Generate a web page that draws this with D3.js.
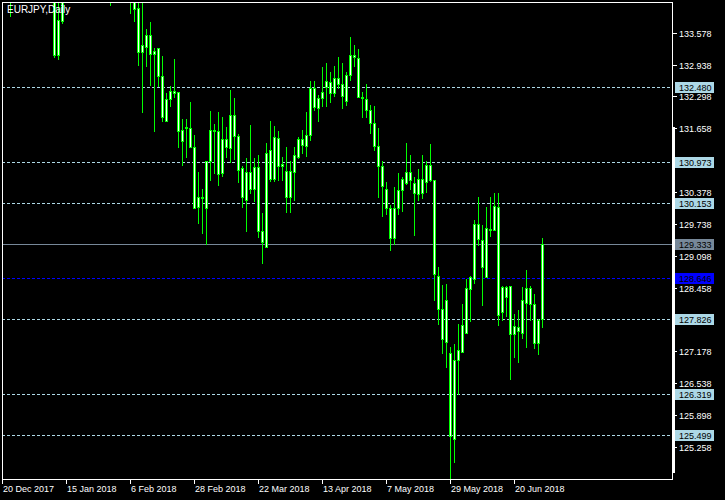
<!DOCTYPE html>
<html><head><meta charset="utf-8">
<script src="https://cdn.jsdelivr.net/npm/d3@7/dist/d3.min.js"></script>
<style>html,body{margin:0;padding:0;background:#000;overflow:hidden}</style>
</head><body>
<svg id="c" width="725" height="500"></svg>
<script>
const open  = [134.45,134.60,134.70,134.45,134.85,134.95,134.70,135.00,135.25,135.40,135.50,135.75,135.40,134.60,133.12,133.82,135.10,135.40,135.75,135.60,136.30,136.00,135.70,135.30,135.60,135.30,135.10,134.90,135.40,135.95,136.80,136.20,135.30,134.50,134.07,133.18,133.30,133.53,133.15,133.27,132.70,131.81,132.24,132.41,132.38,131.62,131.66,131.66,131.28,130.07,130.27,130.05,131.00,131.62,131.61,130.77,131.44,131.27,131.92,131.50,130.86,130.21,130.79,130.43,130.88,129.60,129.27,131.22,130.64,131.46,130.90,130.81,130.27,130.79,131.09,131.44,131.30,131.52,132.46,132.06,132.27,132.48,132.59,132.37,132.67,132.54,132.21,132.73,133.12,133.06,132.29,132.24,132.03,131.77,131.31,130.91,130.43,130.06,129.46,130.05,130.42,130.55,130.78,130.55,130.34,130.64,130.58,130.92,130.62,128.69,128.02,128.21,127.14,125.41,127.01,127.17,127.54,128.43,128.63,129.74,129.42,128.68,129.64,129.62,130.07,127.96,128.48,128.49,127.52,127.66,127.55,128.15,128.45,128.13,127.35,127.82];
const high  = [134.90,135.00,134.85,135.10,135.20,135.10,135.25,135.45,135.60,135.80,136.10,136.00,135.50,134.70,134.40,135.30,135.70,136.00,136.20,136.50,136.60,136.30,135.90,135.80,136.00,135.60,135.40,135.60,136.20,137.20,137.40,136.50,135.40,134.70,134.50,134.25,133.67,133.81,133.30,133.29,133.13,132.38,132.53,133.06,132.41,131.87,131.86,132.21,131.54,130.80,130.45,131.02,132.03,131.76,132.01,131.91,131.71,132.45,132.29,131.56,130.92,131.09,131.75,131.09,131.14,129.98,131.38,131.83,131.73,131.62,131.10,131.30,131.02,131.30,131.50,131.65,132.01,132.63,132.63,132.35,132.91,132.99,132.80,132.93,133.11,132.99,132.81,133.51,133.35,133.27,132.41,132.56,132.15,132.12,131.68,131.02,130.60,130.14,130.50,130.78,130.70,131.39,131.14,130.69,130.87,131.14,131.02,131.36,130.64,128.89,128.53,128.56,127.28,127.35,127.74,128.15,128.65,128.71,129.84,130.29,129.74,130.09,130.29,130.37,130.37,128.51,128.51,128.51,127.94,128.02,128.49,128.83,128.51,128.35,127.84,129.47];
const low   = [133.63,134.30,133.92,134.35,134.60,134.50,134.55,134.80,134.90,135.10,135.30,135.20,134.40,133.08,133.05,133.78,134.90,135.20,135.30,135.40,135.80,135.40,135.00,134.90,135.10,134.80,134.60,134.14,135.20,135.70,135.90,134.80,133.98,133.82,132.93,131.99,132.90,132.53,131.61,132.51,131.81,131.81,132.11,132.28,131.29,130.93,131.09,131.28,130.05,129.76,129.56,129.34,130.61,130.76,130.51,130.69,131.09,130.98,131.04,130.57,130.07,129.60,130.35,130.19,129.48,128.95,129.27,130.59,130.59,130.61,130.62,129.98,129.98,130.22,131.06,131.16,131.10,131.42,132.03,131.81,132.11,132.11,132.19,132.31,132.46,132.06,132.13,132.63,132.91,132.29,131.89,131.88,131.57,131.22,130.27,129.90,129.94,129.22,129.34,129.94,130.00,130.54,130.44,129.52,130.22,130.25,130.37,130.60,128.21,127.73,127.14,126.86,124.64,124.96,126.32,127.17,127.54,127.78,128.56,129.32,128.10,128.68,129.50,129.62,127.71,127.80,127.89,126.62,127.07,126.97,127.45,127.27,127.81,127.24,127.13,127.66];
const close = [134.60,134.70,134.45,134.85,134.95,134.70,135.00,135.25,135.40,135.50,135.75,135.40,134.60,133.12,133.83,135.10,135.40,135.75,135.60,136.30,136.00,135.70,135.30,135.60,135.30,135.10,134.90,135.40,135.95,136.80,136.20,135.30,134.50,134.05,133.18,133.33,133.53,133.15,133.21,132.70,131.89,132.24,132.41,132.36,131.61,131.41,131.68,131.28,130.05,130.27,130.25,131.00,131.62,131.61,130.74,131.44,131.29,131.92,131.50,130.83,130.27,130.79,130.43,130.88,129.60,129.38,131.16,130.64,131.48,130.90,130.94,130.27,130.81,131.12,131.44,131.32,131.52,132.46,132.08,132.27,132.38,132.61,132.37,132.67,132.54,132.31,132.73,133.12,133.09,132.29,132.27,132.03,131.77,131.31,130.91,130.49,130.06,129.46,130.05,130.42,130.64,130.78,130.62,130.35,130.64,130.35,130.93,130.62,128.73,128.02,127.42,127.36,125.48,127.01,127.21,127.71,128.45,128.67,129.74,129.43,128.88,129.65,129.62,130.10,127.91,128.48,128.27,127.52,127.68,127.58,128.21,128.45,128.13,127.35,127.81,129.333];

const tickIdx    = [0,16,32,48,64,80,96,112,128];
const tickLabels = ["20 Dec 2017","15 Jan 2018","6 Feb 2018","28 Feb 2018","22 Mar 2018","13 Apr 2018","7 May 2018","29 May 2018","20 Jun 2018"];
const priceTicks = [133.578,132.938,132.298,131.658,131.018,130.378,129.738,129.098,128.458,127.818,127.178,126.538,125.898,125.258];
const dashLevels = [132.480,130.973,130.153,127.826,126.319,125.499];
const bidLevel   = 129.333;
const blueLevel  = 128.646;
const title      = "EURJPY,Daily";

const W=725,H=500, L=2, R=672, T=2, B=479;
const svg=d3.select("#c").attr("shape-rendering","crispEdges");
svg.append("rect").attr("width",W).attr("height",H).attr("fill","#000");

const x=d3.scaleLinear().domain([0,1]).range([2.5,6.5]);
const y=d3.scaleLinear().domain([124.615,134.194]).range([B,T]);
const py=v=>Math.round(y(v))+0.5;
const font="'Liberation Sans', Arial, sans-serif";

svg.append("clipPath").attr("id","clip").append("rect").attr("x",L+1).attr("y",T+1).attr("width",R-L-1).attr("height",B-T-1);
const plot=svg.append("g").attr("clip-path","url(#clip)");

// level lines
plot.selectAll("line.lv").data(dashLevels).join("line")
  .attr("x1",L).attr("x2",R).attr("y1",d=>py(d)).attr("y2",d=>py(d))
  .attr("stroke","#add8e6").attr("stroke-dasharray","3,2");
plot.append("line").attr("x1",L).attr("x2",R).attr("y1",py(bidLevel)).attr("y2",py(bidLevel)).attr("stroke","#778899");
plot.append("line").attr("x1",L).attr("x2",R).attr("y1",py(blueLevel)).attr("y2",py(blueLevel)).attr("stroke","#0000ff").attr("stroke-dasharray","3,2");

// candles
const idx=d3.range(open.length);
const cg=plot.selectAll("g.c").data(idx).join("g");
cg.append("line").attr("x1",i=>x(i)).attr("x2",i=>x(i))
  .attr("y1",i=>py(high[i])).attr("y2",i=>py(low[i])).attr("stroke","#00ff00");
cg.append("path").attr("d",i=>{
  const t=py(Math.max(open[i],close[i])), b=py(Math.min(open[i],close[i]));
  const x0=x(i)-1,x1=x(i)+1;
  return `M${x0},${t}H${x1}V${b}H${x0}Z`;
}).attr("fill","#fff").attr("stroke","#00ff00");

// frame
svg.append("path").attr("d",`M${L+0.5},${B+0.5}V${T+0.5}H${R+0.5}V${B+0.5}H${L+0.5}`)
  .attr("fill","none").attr("stroke","#fff");
svg.append("rect").attr("x",R).attr("y",127).attr("width",3).attr("height",473-127).attr("fill","#fff");

// level label list (boxes drawn over the price scale)
const allLevels=dashLevels.concat([bidLevel,blueLevel]);
const covered=v=>allLevels.some(l=>Math.abs(y(l)-y(v))<7);

// price axis
const pa=svg.append("g");
pa.selectAll("line").data(priceTicks).join("line")
  .attr("x1",R).attr("x2",R+5).attr("y1",d=>py(d)).attr("y2",d=>py(d)).attr("stroke","#fff");
pa.selectAll("text").data(priceTicks.filter(d=>!covered(d))).join("text")
  .attr("x",R+7).attr("y",d=>py(d)).attr("dy","0.36em")
  .attr("fill","#fff").attr("font-family",font).attr("font-size","9px").text(d=>d3.format(".3f")(d));

// level labels
const boxes=dashLevels.map(v=>({v,bg:"#add8e6"})).concat([{v:bidLevel,bg:"#778899"},{v:blueLevel,bg:"#0000ff"}]);
const bg=svg.append("g").selectAll("g").data(boxes).join("g");
bg.append("rect").attr("x",R+3).attr("y",d=>Math.round(y(d.v))-5).attr("width",39).attr("height",11).attr("fill",d=>d.bg);
bg.append("text").attr("x",R+7).attr("y",d=>py(d.v)).attr("dy","0.36em")
  .attr("fill","#000").attr("font-family",font).attr("font-size","9px").text(d=>d3.format(".3f")(d.v));

// time axis
const ta=svg.append("g");
ta.selectAll("line").data(tickIdx).join("line")
  .attr("x1",i=>Math.floor(x(i))+0.5).attr("x2",i=>Math.floor(x(i))+0.5).attr("y1",B).attr("y2",B+5).attr("stroke","#fff");
ta.selectAll("text").data(tickIdx).join("text")
  .attr("x",i=>Math.floor(x(i))+1).attr("y",492)
  .attr("fill","#fff").attr("font-family",font).attr("font-size","9px").text((i,k)=>tickLabels[k]);

// title
svg.append("text").attr("x",7).attr("y",13).attr("fill","#fff").attr("font-family",font).attr("font-size","10px").text(title);
</script>
</body></html>
